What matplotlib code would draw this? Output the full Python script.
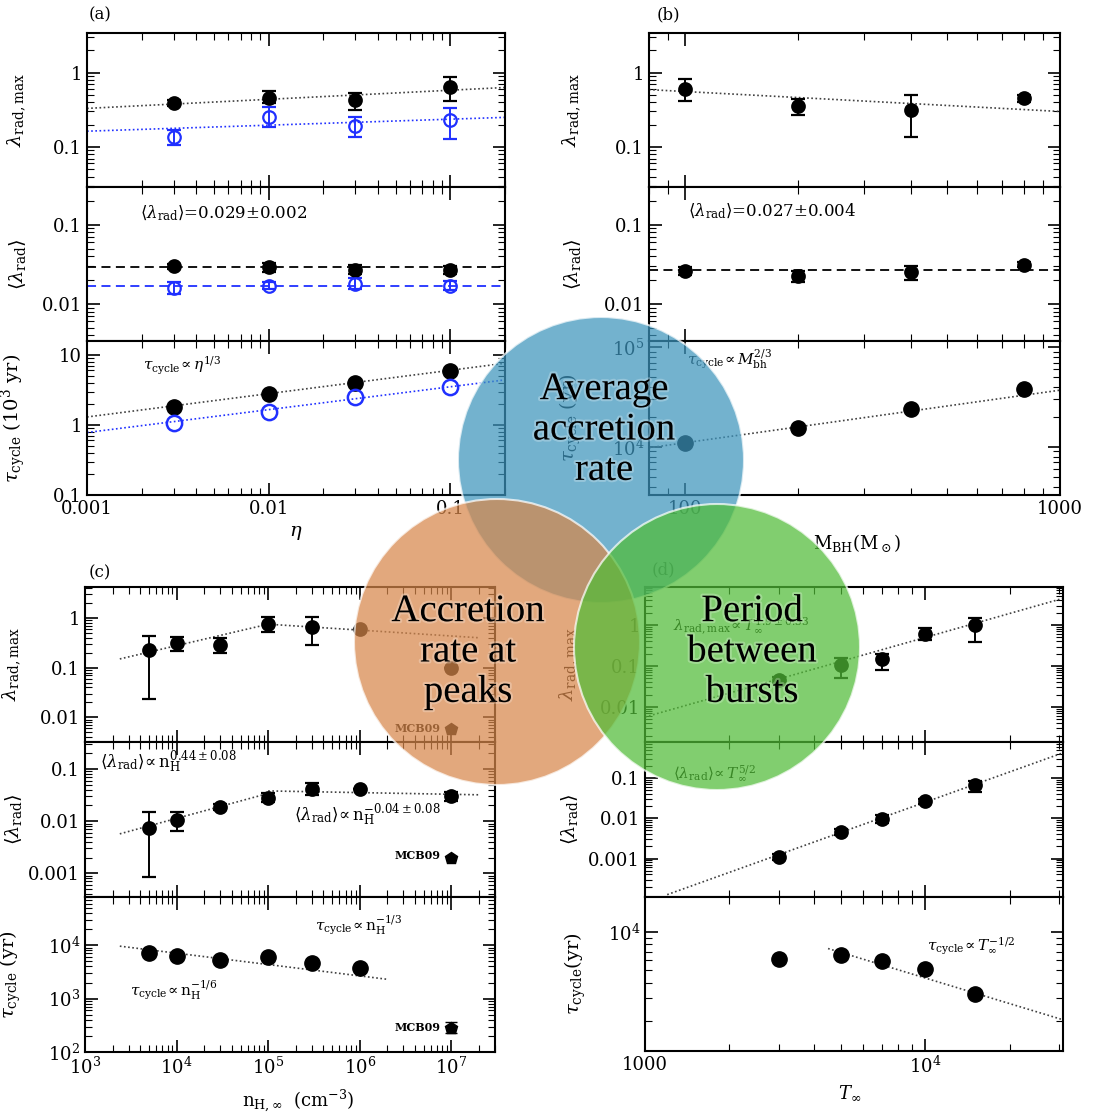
import matplotlib.pyplot as plt
from matplotlib.patches import Circle
from matplotlib.ticker import NullFormatter
import matplotlib.patheffects as pe

plt.rcParams['font.family'] = 'DejaVu Serif'
plt.rcParams['mathtext.fontset'] = 'dejavuserif'
plt.rcParams['font.size'] = 13

# ---- (a) radiative efficiency eta ----
eta = [0.003, 0.01, 0.03, 0.1]
a_lmax = [0.39, 0.46, 0.43, 0.63]
a_lmax_lo = [0.36, 0.39, 0.31, 0.42]
a_lmax_hi = [0.43, 0.56, 0.53, 0.86]
a_lmax_b = [0.135, 0.25, 0.19, 0.23]
a_lmax_b_lo = [0.105, 0.185, 0.137, 0.127]
a_lmax_b_hi = [0.17, 0.34, 0.25, 0.33]
a_lmean = [0.030, 0.029, 0.027, 0.027]
a_lmean_lo = [0.028, 0.025, 0.024, 0.024]
a_lmean_hi = [0.032, 0.033, 0.031, 0.030]
a_lmean_b = [0.016, 0.017, 0.018, 0.017]
a_lmean_b_lo = [0.0135, 0.0155, 0.0155, 0.015]
a_lmean_b_hi = [0.019, 0.019, 0.021, 0.0195]
a_tau = [1.8, 2.8, 4.0, 5.9]
a_tau_b = [1.07, 1.55, 2.5, 3.5]
a_fit_x = [0.001, 0.2]
a_fit_lmax = [0.33, 0.63]
a_fit_lmax_b = [0.163, 0.25]
a_fit_tau = [1.3, 7.6]
a_fit_tau_b = [0.78, 4.4]
a_mean_k, a_mean_b = 0.029, 0.017

# ---- (b) black hole mass ----
mbh = [100, 200, 400, 800]
b_lmax = [0.60, 0.35, 0.31, 0.45]
b_lmax_lo = [0.42, 0.27, 0.135, 0.40]
b_lmax_hi = [0.83, 0.44, 0.50, 0.50]
b_lmean = [0.026, 0.0225, 0.025, 0.031]
b_lmean_lo = [0.023, 0.019, 0.020, 0.029]
b_lmean_hi = [0.029, 0.026, 0.030, 0.034]
b_tau = [1.1e4, 1.55e4, 2.4e4, 3.8e4]
b_fit_x = [80, 1000]
b_fit_lmax = [0.59, 0.30]
b_fit_tau = [9.8e3, 3.7e4]
b_mean = 0.027

# ---- (c) gas density ----
nh = [5e3, 1e4, 3e4, 1e5, 3e5, 1e6, 1e7]
c_lmax = [0.23, 0.31, 0.29, 0.76, 0.65, 0.61, 0.097]
c_lmax_lo = [0.023, 0.22, 0.195, 0.52, 0.29, 0.61, 0.097]
c_lmax_hi = [0.43, 0.41, 0.39, 1.05, 1.03, 0.61, 0.097]
c_lmean = [0.0074, 0.0104, 0.0185, 0.028, 0.042, 0.042, 0.030]
c_lmean_lo = [0.00083, 0.0064, 0.0165, 0.023, 0.032, 0.042, 0.024]
c_lmean_hi = [0.015, 0.015, 0.021, 0.034, 0.055, 0.042, 0.037]
c_tau_x = [5e3, 1e4, 3e4, 1e5, 3e5, 1e6]
c_tau = [7.2e3, 6.2e3, 5.2e3, 6.0e3, 4.7e3, 3.8e3]
mcb_x = 1e7
mcb_lmax = 0.0059
mcb_lmean = 0.002
mcb_tau, mcb_tau_lo, mcb_tau_hi = 280, 230, 360
c_fit1_x, c_fit1_lmax, c_fit1_lmean = [2.4e3, 1e5], [0.15, 0.75], [0.0057, 0.034]
c_fit2_x, c_fit2_lmax, c_fit2_lmean = [1e5, 2e7], [0.75, 0.4], [0.038, 0.032]
c_fit_tau_x, c_fit_tau = [2.4e3, 2e6], [9.6e3, 2.3e3]

# ---- (d) gas temperature ----
tinf = [3000, 5000, 7000, 1e4, 1.5e4]
d_lmax = [0.045, 0.105, 0.147, 0.62, 1.0]
d_lmax_lo = [0.038, 0.05, 0.08, 0.43, 0.38]
d_lmax_hi = [0.053, 0.16, 0.20, 0.83, 1.5]
d_lmean = [0.0011, 0.0045, 0.0095, 0.027, 0.066]
d_lmean_lo = [0.0009, 0.0038, 0.0078, 0.023, 0.045]
d_lmean_hi = [0.0013, 0.0053, 0.012, 0.031, 0.087]
d_tau = [6.1e3, 6.6e3, 5.9e3, 5.1e3, 3.25e3]
d_fit_lmax_x, d_fit_lmax = [1000, 3.1e4], [0.0057, 4.5]
d_fit_lmean_x, d_fit_lmean = [1200, 3.1e4], [1.26e-4, 0.43]
d_fit_tau_x, d_fit_tau = [4500, 3.1e4], [7.4e3, 2.04e3]

W, H = 1105, 1117
fig = plt.figure(figsize=(W / 100, H / 100), dpi=100)


def panel(x0, y0, x1, y1, xlim, ylim, yticks, ylabels, ylab, ylx):
    ax = fig.add_axes([x0 / W, 1 - y1 / H, (x1 - x0) / W, (y1 - y0) / H])
    ax.set_xscale('log')
    ax.set_yscale('log')
    ax.set_xlim(xlim)
    ax.set_ylim(ylim)
    ax.set_yticks(yticks, ylabels)
    ax.xaxis.set_minor_formatter(NullFormatter())
    ax.yaxis.set_minor_formatter(NullFormatter())
    ax.tick_params(which='both', direction='in', top=True, right=True, labelsize=13)
    ax.tick_params(which='major', length=9, width=1.2)
    ax.tick_params(which='minor', length=5, width=0.8)
    for s in ax.spines.values():
        s.set_linewidth(1.5)
    ax.set_ylabel(ylab, fontsize=14)
    ax.yaxis.set_label_coords(ylx, 0.5)
    return ax


def errpts(ax, x, y, lo, hi, color='k', open_=False):
    yerr = [[v - l for v, l in zip(y, lo)], [h - v for v, h in zip(y, hi)]]
    ax.errorbar(x, y, yerr=yerr, fmt='o', ms=9, color=color,
                mfc='none' if open_ else color, mew=1.6,
                capsize=5, elinewidth=1.4, capthick=1.4)


def fit(ax, x, y, color='0.25'):
    ax.plot(x, y, color=color, lw=1.2, ls=(0, (1, 1.5)))


blue = '#2030ff'
LMAX = r'$\lambda_{\rm rad,max}$'
LMEAN = r'$\langle\lambda_{\rm rad}\rangle$'

# panel (a)
ax = panel(87, 33, 505, 187, (0.001, 0.2), (0.029, 3.4), [0.1, 1], ['0.1', '1'], LMAX, -0.14)
ax.tick_params(labelbottom=False)
fit(ax, a_fit_x, a_fit_lmax)
fit(ax, a_fit_x, a_fit_lmax_b, blue)
errpts(ax, eta, a_lmax, a_lmax_lo, a_lmax_hi)
errpts(ax, eta, a_lmax_b, a_lmax_b_lo, a_lmax_b_hi, blue, True)

ax = panel(87, 187, 505, 341, (0.001, 0.2), (0.0034, 0.3), [0.01, 0.1], ['0.01', '0.1'], LMEAN, -0.14)
ax.tick_params(labelbottom=False)
ax.axhline(a_mean_k, color='k', lw=1.3, ls=(0, (5, 3)))
ax.axhline(a_mean_b, color=blue, lw=1.3, ls=(0, (5, 3)))
errpts(ax, eta, a_lmean, a_lmean_lo, a_lmean_hi)
errpts(ax, eta, a_lmean_b, a_lmean_b_lo, a_lmean_b_hi, blue, True)
ax.text(0.127, 0.83, r'$\langle\lambda_{\rm rad}\rangle$=0.029$\pm$0.002',
        transform=ax.transAxes, va='center', fontsize=12)

ax = panel(87, 341, 505, 495, (0.001, 0.2), (0.1, 15.8), [0.1, 1, 10], ['0.1', '1', '10'],
           r'$\tau_{\rm cycle}\ (10^3\ {\rm yr})$', -0.14)
ax.set_xticks([0.001, 0.01, 0.1], ['0.001', '0.01', '0.1'])
fit(ax, a_fit_x, a_fit_tau)
fit(ax, a_fit_x, a_fit_tau_b, blue)
ax.plot(eta, a_tau, 'o', ms=11, color='k')
ax.plot(eta, a_tau_b, 'o', ms=11, mfc='none', mec=blue, mew=1.8)
ax.text(0.134, 0.84, r'$\tau_{\rm cycle}\!\propto\eta^{1/3}$', transform=ax.transAxes,
        va='center', fontsize=11)
ax.set_xlabel(r'$\eta$', fontsize=14)
ax.xaxis.set_label_coords(0.5, -0.19)

# panel (b)
ax = panel(649, 33, 1060, 187, (80, 1000), (0.029, 3.4), [0.1, 1], ['0.1', '1'], LMAX, -0.16)
ax.tick_params(labelbottom=False)
fit(ax, b_fit_x, b_fit_lmax)
errpts(ax, mbh, b_lmax, b_lmax_lo, b_lmax_hi)

ax = panel(649, 187, 1060, 341, (80, 1000), (0.0034, 0.3), [0.01, 0.1], ['0.01', '0.1'], LMEAN, -0.16)
ax.tick_params(labelbottom=False)
ax.axhline(b_mean, color='k', lw=1.3, ls=(0, (5, 3)))
errpts(ax, mbh, b_lmean, b_lmean_lo, b_lmean_hi)
ax.text(0.095, 0.84, r'$\langle\lambda_{\rm rad}\rangle$=0.027$\pm$0.004',
        transform=ax.transAxes, va='center', fontsize=12)

ax = panel(649, 341, 1060, 495, (80, 1000), (3300, 1.15e5), [1e4, 1e5], [r'$10^4$', r'$10^5$'],
           r'$\tau_{\rm cycle}\ ({\rm yr})$', -0.16)
ax.set_xticks([100, 1000], ['100', '1000'])
fit(ax, b_fit_x, b_fit_tau)
ax.plot(mbh, b_tau, 'o', ms=11, color='k')
ax.text(0.092, 0.88, r'$\tau_{\rm cycle}\!\propto M_{\rm bh}^{2/3}$', transform=ax.transAxes,
        va='center', fontsize=11)
ax.set_xlabel(r'${\rm M_{BH}(M_\odot)}$', fontsize=13)
ax.xaxis.set_label_coords(0.506, -0.24)

# panel (c)
ax = panel(85, 587, 495, 742, (1e3, 3e7), (0.0032, 4.2), [0.01, 0.1, 1], ['0.01', '0.1', '1'], LMAX, -0.15)
ax.tick_params(labelbottom=False)
fit(ax, c_fit1_x, c_fit1_lmax)
fit(ax, c_fit2_x, c_fit2_lmax)
errpts(ax, nh, c_lmax, c_lmax_lo, c_lmax_hi)
ax.plot(mcb_x, mcb_lmax, 'p', ms=9, color='k')
ax.text(0.756, 0.09, 'MCB09', transform=ax.transAxes, va='center', fontsize=8, weight='bold')

ax = panel(85, 742, 495, 897, (1e3, 3e7), (3.5e-4, 0.33), [0.001, 0.01, 0.1], ['0.001', '0.01', '0.1'],
           LMEAN, -0.15)
ax.tick_params(labelbottom=False)
fit(ax, c_fit1_x, c_fit1_lmean)
fit(ax, c_fit2_x, c_fit2_lmean)
errpts(ax, nh, c_lmean, c_lmean_lo, c_lmean_hi)
ax.plot(mcb_x, mcb_lmean, 'p', ms=9, color='k')
ax.text(0.037, 0.87, r'$\langle\lambda_{\rm rad}\rangle\!\propto{\rm n_H^{0.44\pm0.08}}$',
        transform=ax.transAxes, va='center', fontsize=12)
ax.text(0.51, 0.53, r'$\langle\lambda_{\rm rad}\rangle\!\propto{\rm n_H^{-0.04\pm0.08}}$',
        transform=ax.transAxes, va='center', fontsize=12)
ax.text(0.756, 0.27, 'MCB09', transform=ax.transAxes, va='center', fontsize=8, weight='bold')

ax = panel(85, 897, 495, 1052, (1e3, 3e7), (100, 8e4), [100, 1e3, 1e4],
           [r'$10^2$', r'$10^3$', r'$10^4$'], r'$\tau_{\rm cycle}\ ({\rm yr})$', -0.15)
ax.set_xticks([1e3, 1e4, 1e5, 1e6, 1e7], [r'$10^3$', r'$10^4$', r'$10^5$', r'$10^6$', r'$10^7$'])
fit(ax, c_fit_tau_x, c_fit_tau)
ax.plot(c_tau_x, c_tau, 'o', ms=11, color='k')
ax.errorbar([mcb_x], [mcb_tau], yerr=[[mcb_tau - mcb_tau_lo], [mcb_tau_hi - mcb_tau]],
            fmt='p', ms=9, color='k', capsize=4, elinewidth=1.4)
ax.text(0.56, 0.82, r'$\tau_{\rm cycle}\!\propto{\rm n_H^{-1/3}}$', transform=ax.transAxes,
        va='center', fontsize=11)
ax.text(0.11, 0.40, r'$\tau_{\rm cycle}\!\propto{\rm n_H^{-1/6}}$', transform=ax.transAxes,
        va='center', fontsize=11)
ax.text(0.756, 0.16, 'MCB09', transform=ax.transAxes, va='center', fontsize=8, weight='bold')
ax.set_xlabel(r'${\rm n_{H,\infty}}\ \ ({\rm cm^{-3}})$', fontsize=13)
ax.xaxis.set_label_coords(0.52, -0.23)

# panel (d)
ax = panel(645, 587, 1063, 742, (1000, 3.1e4), (0.0014, 8.5), [0.01, 0.1, 1], ['0.01', '0.1', '1'],
           LMAX, -0.155)
ax.tick_params(labelbottom=False)
fit(ax, d_fit_lmax_x, d_fit_lmax)
errpts(ax, tinf, d_lmax, d_lmax_lo, d_lmax_hi)
ax.text(0.067, 0.74, r'$\lambda_{\rm rad,max}\!\propto T_\infty^{1.9\pm0.33}$',
        transform=ax.transAxes, va='center', fontsize=11)

ax = panel(645, 742, 1063, 897, (1000, 3.1e4), (1.1e-4, 0.8), [0.001, 0.01, 0.1],
           ['0.001', '0.01', '0.1'], LMEAN, -0.155)
ax.tick_params(labelbottom=False)
fit(ax, d_fit_lmean_x, d_fit_lmean)
errpts(ax, tinf, d_lmean, d_lmean_lo, d_lmean_hi)
ax.text(0.067, 0.80, r'$\langle\lambda_{\rm rad}\rangle\!\propto T_\infty^{5/2}$',
        transform=ax.transAxes, va='center', fontsize=11)

ax = panel(645, 897, 1063, 1051, (1000, 3.1e4), (1160, 1.88e4), [1e4], [r'$10^4$'],
           r'$\tau_{\rm cycle}({\rm yr})$', -0.136)
ax.set_xticks([1000, 1e4], ['1000', r'$10^4$'])
fit(ax, d_fit_tau_x, d_fit_tau)
ax.plot(tinf, d_tau, 'o', ms=11, color='k')
ax.text(0.675, 0.675, r'$\tau_{\rm cycle}\!\propto T_\infty^{-1/2}$', transform=ax.transAxes,
        va='center', fontsize=11)
ax.set_xlabel(r'$T_\infty$', fontsize=13)
ax.xaxis.set_label_coords(0.49, -0.21)

for lab, x, y in [('(a)', 100, 15), ('(b)', 668, 15), ('(c)', 100, 573), ('(d)', 663, 570)]:
    fig.text(x / W, 1 - y / H, lab, ha='center', va='center', fontsize=12)

# overlapping bubbles on top of the panels
ov = fig.add_axes([0, 0, 1, 1], zorder=10)
ov.set_xlim(0, W)
ov.set_ylim(H, 0)
ov.axis('off')
bubbles = [
    ((601, 460), '#3d94bc', (604, 430), 'Average\naccretion\nrate'),
    ((497, 642), '#d7874b', (468, 652), 'Accretion\nrate at\npeaks'),
    ((717, 647), '#51bc37', (752, 652), 'Period\nbetween\nbursts'),
]
for c, col, _, _ in bubbles:
    ov.add_patch(Circle(c, 143, fc=col, ec='white', lw=1.5, alpha=0.72))
for _, _, pos, txt in bubbles:
    ov.text(pos[0], pos[1], txt, ha='center', va='center', fontsize=28,
            family='Liberation Serif', linespacing=1.12,
            path_effects=[pe.withStroke(linewidth=3, foreground='white', alpha=0.25)])

fig.savefig('out.png', dpi=100)
